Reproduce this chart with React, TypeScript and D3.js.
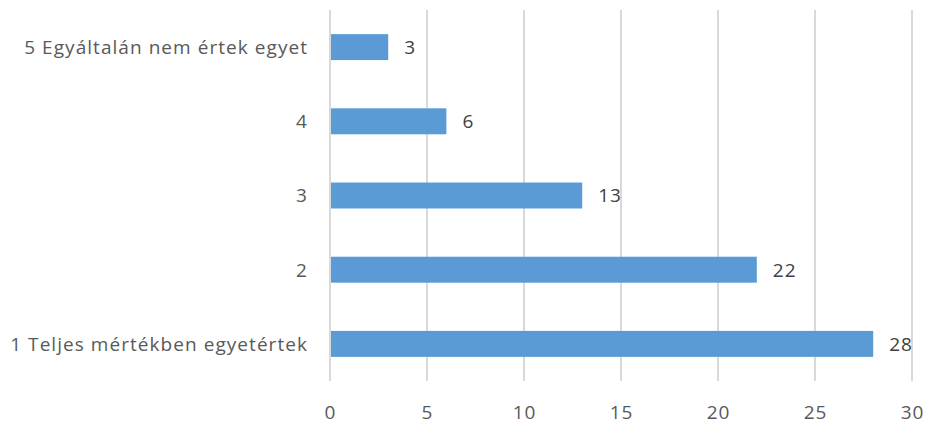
import React, { useRef, useEffect } from 'react';
import * as d3 from 'd3';

const categories = [
  '5 Egyáltalán nem értek egyet',
  '4',
  '3',
  '2',
  '1 Teljes mértékben egyetértek',
];
const values = [3, 6, 13, 22, 28];
const xTicks = [0, 5, 10, 15, 20, 25, 30];

const W = 931;
const H = 427;

const App: React.FC = () => {
  const svgRef = useRef<SVGSVGElement>(null);

  useEffect(() => {
    if (!svgRef.current) return;
    const svg = d3.select(svgRef.current);
    svg.selectAll('*').remove();

    const left = 330;
    const right = 912;
    const top = 10;
    const bottom = 381;
    const font = '"Open Sans", sans-serif';
    const textColor = '#595959';

    const x = d3.scaleLinear().domain([0, 30]).range([left, right]);
    const y = d3.scaleBand<string>()
      .domain(categories)
      .range([top, bottom])
      .paddingInner(0.65)
      .paddingOuter(0.325);

    // gridlines
    svg.append('g')
      .selectAll('line')
      .data(xTicks)
      .enter()
      .append('line')
      .attr('x1', d => x(d))
      .attr('x2', d => x(d))
      .attr('y1', top)
      .attr('y2', bottom)
      .attr('stroke', '#d9d9d9')
      .attr('stroke-width', 2);

    // bars
    svg.append('g')
      .selectAll('rect')
      .data(values)
      .enter()
      .append('rect')
      .attr('x', x(0) + 1)
      .attr('y', (d, i) => y(categories[i])!)
      .attr('width', d => x(d) - x(0) - 1)
      .attr('height', y.bandwidth())
      .attr('fill', '#5b9bd5');

    // value labels
    svg.append('g')
      .selectAll('text')
      .data(values)
      .enter()
      .append('text')
      .attr('x', d => x(d) + 16)
      .attr('y', (d, i) => y(categories[i])! + y.bandwidth() / 2)
      .attr('dy', '0.36em')
      .attr('font-family', font)
      .attr('font-size', 19)
      .attr('letter-spacing', 1)
      .attr('fill', '#404040')
      .text(d => d);

    // category labels
    svg.append('g')
      .selectAll('text')
      .data(categories)
      .enter()
      .append('text')
      .attr('x', 308)
      .attr('y', d => y(d)! + y.bandwidth() / 2)
      .attr('dy', '0.36em')
      .attr('text-anchor', 'end')
      .attr('font-family', font)
      .attr('font-size', 19)
      .attr('letter-spacing', 1.05)
      .attr('fill', textColor)
      .text(d => d);

    // x tick labels
    svg.append('g')
      .selectAll('text')
      .data(xTicks)
      .enter()
      .append('text')
      .attr('x', d => x(d) + 0.5)
      .attr('y', 412)
      .attr('dy', '0.36em')
      .attr('text-anchor', 'middle')
      .attr('font-family', font)
      .attr('font-size', 19)
      .attr('letter-spacing', 1)
      .attr('fill', textColor)
      .text(d => d);
  }, []);

  return (
    <svg
      ref={svgRef}
      width={W}
      height={H}
      style={{ position: 'absolute', left: 0, top: 0, background: '#fff' }}
    />
  );
};

export default App;
